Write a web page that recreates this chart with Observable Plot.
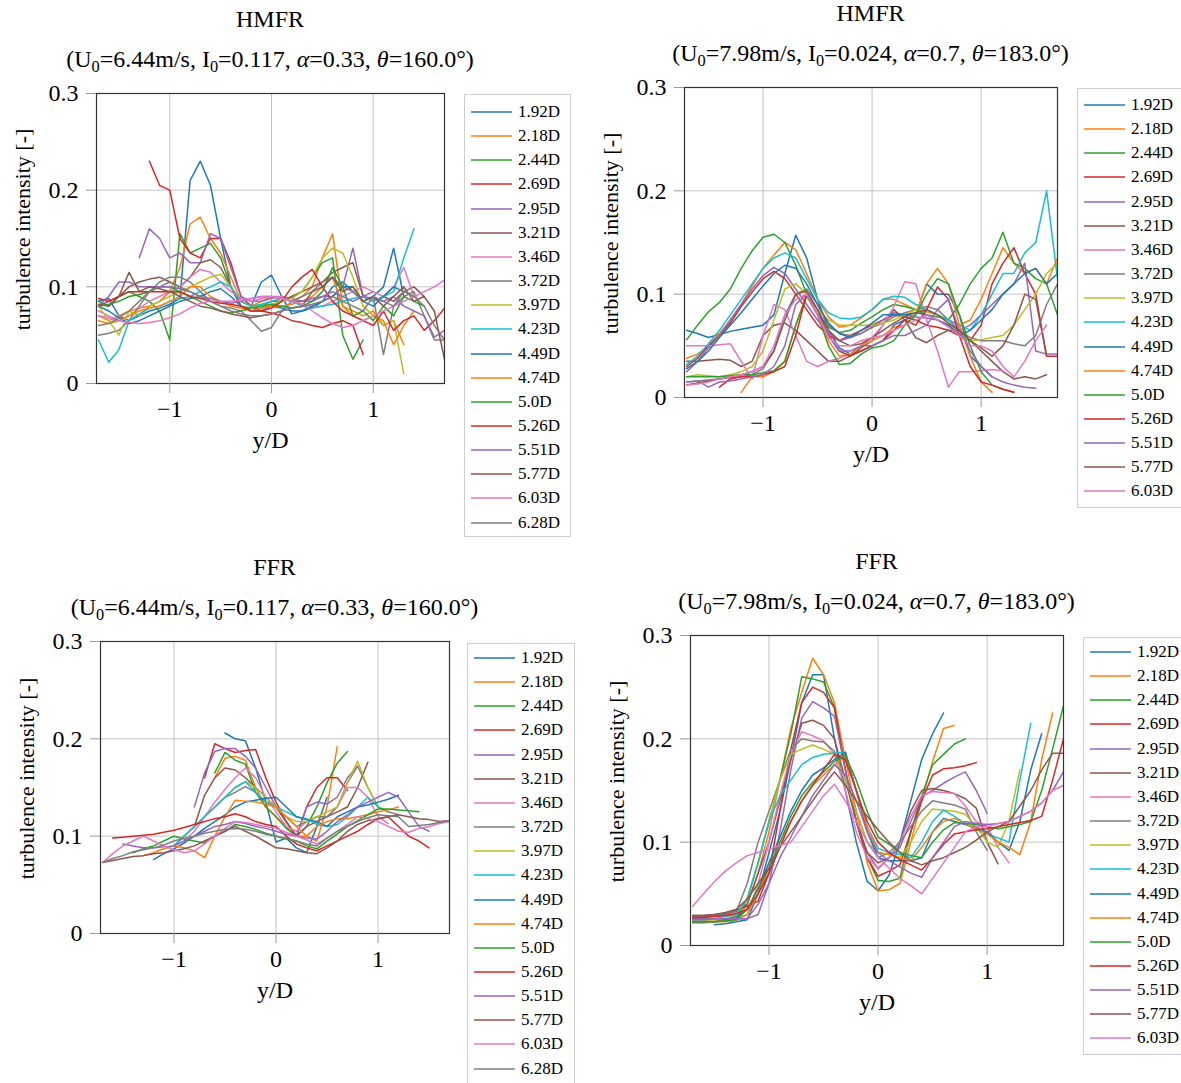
<!DOCTYPE html>
<html><head><meta charset="utf-8">
<script src="https://cdn.jsdelivr.net/npm/d3@7"></script>
<script src="https://cdn.jsdelivr.net/npm/@observablehq/plot@0.6"></script>
<style>
body{margin:0;background:#fff;width:1181px;height:1083px;position:relative;overflow:hidden;font-family:"Liberation Serif","Times New Roman",serif;color:#000}
.title{position:absolute;font-size:24px;line-height:1.15;text-align:center;white-space:nowrap;transform:translate(-50%,-50%)}
.title sub{font-size:0.68em;vertical-align:-0.28em;line-height:0}
.legend{position:absolute;border:1px solid #cfcfcf;background:#fff;box-sizing:border-box}
.entry{position:absolute;left:0;font-size:17px;line-height:1;white-space:nowrap}
.plotbox{position:absolute}
</style></head><body>
<script>
// Series labels (downstream distance)
const labels18 = ["1.92D","2.18D","2.44D","2.69D","2.95D","3.21D","3.46D","3.72D","3.97D","4.23D","4.49D","4.74D","5.0D","5.26D","5.51D","5.77D","6.03D","6.28D"];
const labels17 = labels18.slice(0, 17);
const tab10 = ["#1f77b4","#ff7f0e","#2ca02c","#d62728","#9467bd","#8c564b","#e377c2","#7f7f7f","#bcbd22","#17becf"];
const xTicks = [-1, 0, 1];
const yTicks = [0, 0.1, 0.2, 0.3];

// Each series: [first y/D value, turbulence intensity values at 0.1 y/D spacing]
const hmfrLeft = [
 [-1.7,[0.085,0.088,0.07,0.065,0.07,0.075,0.078,0.082,0.088,0.21,0.23,0.205,0.15,0.1,0.085,0.08,0.105,0.112,0.09,0.072,0.075,0.078,0.085,0.1,0.105,0.095,0.085,0.09,0.1,0.14,0.09]],
 [-1.7,[0.07,0.065,0.07,0.075,0.078,0.08,0.085,0.095,0.12,0.165,0.172,0.15,0.135,0.11,0.085,0.08,0.085,0.09,0.088,0.085,0.09,0.1,0.13,0.155,0.08,0.075,0.07,0.075,0.06,0.065,0.04]],
 [-1.7,[0.085,0.08,0.09,0.095,0.09,0.085,0.075,0.045,0.155,0.135,0.14,0.145,0.13,0.1,0.08,0.078,0.08,0.085,0.085,0.09,0.095,0.11,0.125,0.13,0.05,0.025,0.045]],
 [-1.2,[0.23,0.205,0.2,0.15,0.135,0.13,0.15,0.15,0.125,0.09,0.08,0.075,0.073,0.07,0.065,0.063,0.06,0.058,0.062,0.065,0.06,0.03]],
 [-1.3,[0.13,0.16,0.15,0.13,0.135,0.125,0.125,0.155,0.15,0.12,0.09,0.085,0.085,0.088,0.09,0.088,0.085,0.085,0.09,0.09,0.1,0.14,0.09,0.095]],
 [-1.7,[0.08,0.085,0.09,0.1,0.105,0.108,0.11,0.105,0.1,0.11,0.125,0.128,0.12,0.1,0.08,0.075,0.075,0.08,0.085,0.09,0.095,0.1,0.105,0.115,0.12,0.125,0.09,0.085,0.09,0.085,0.095,0.1,0.09]],
 [-1.7,[0.075,0.07,0.065,0.07,0.078,0.085,0.09,0.095,0.1,0.11,0.118,0.115,0.105,0.095,0.088,0.085,0.088,0.09,0.09,0.085,0.082,0.08,0.08,0.085,0.09,0.095,0.1,0.095,0.09,0.1,0.12,0.09]],
 [-1.7,[0.05,0.052,0.055,0.065,0.08,0.095,0.105,0.11,0.11,0.105,0.095,0.085,0.08,0.078,0.075,0.065,0.054,0.058,0.075,0.085,0.09,0.095,0.105,0.11,0.1,0.095,0.085,0.09,0.03,0.08,0.09,0.095,0.07,0.045,0.045]],
 [-1.7,[0.08,0.065,0.05,0.075,0.07,0.08,0.085,0.09,0.095,0.1,0.105,0.11,0.113,0.1,0.085,0.08,0.08,0.082,0.085,0.088,0.095,0.11,0.13,0.14,0.135,0.11,0.08,0.07,0.06,0.065,0.01]],
 [-1.7,[0.045,0.022,0.035,0.065,0.072,0.078,0.08,0.085,0.088,0.09,0.095,0.1,0.105,0.1,0.085,0.08,0.082,0.085,0.088,0.085,0.08,0.078,0.08,0.082,0.085,0.088,0.09,0.085,0.09,0.095,0.13,0.16]],
 [-1.7,[0.08,0.075,0.068,0.062,0.065,0.07,0.075,0.08,0.085,0.088,0.09,0.095,0.098,0.09,0.08,0.075,0.078,0.08,0.078,0.075,0.075,0.08,0.085,0.09,0.1,0.1,0.085,0.08,0.09,0.1,0.095]],
 [-1.7,[0.065,0.062,0.065,0.07,0.075,0.078,0.08,0.085,0.09,0.1,0.1,0.09,0.085,0.08,0.078,0.075,0.078,0.08,0.08,0.082,0.085,0.09,0.1,0.11,0.08,0.07,0.065,0.07,0.065,0.04,0.06,0.075]],
 [-1.7,[0.08,0.082,0.085,0.09,0.092,0.095,0.1,0.1,0.095,0.09,0.085,0.08,0.075,0.073,0.075,0.078,0.08,0.082,0.08,0.078,0.08,0.085,0.095,0.12,0.1,0.07,0.075,0.065,0.08,0.07,0.09,0.085,0.08]],
 [-1.7,[0.088,0.085,0.09,0.095,0.095,0.095,0.095,0.095,0.095,0.09,0.088,0.085,0.083,0.082,0.08,0.075,0.075,0.078,0.085,0.1,0.11,0.118,0.1,0.085,0.075,0.07,0.065,0.06,0.075,0.055,0.065,0.07,0.055,0.065,0.078]],
 [-1.7,[0.08,0.09,0.105,0.105,0.1,0.1,0.1,0.1,0.098,0.095,0.09,0.088,0.085,0.083,0.085,0.088,0.09,0.09,0.088,0.085,0.085,0.088,0.09,0.095,0.09,0.085,0.09,0.088,0.085,0.09,0.08,0.075,0.07,0.048,0.055]],
 [-1.7,[0.082,0.08,0.09,0.115,0.095,0.1,0.098,0.095,0.09,0.085,0.08,0.078,0.075,0.072,0.07,0.068,0.07,0.072,0.075,0.078,0.08,0.095,0.1,0.11,0.095,0.1,0.085,0.09,0.08,0.09,0.1,0.085,0.09,0.075,0.025]],
 [-1.7,[0.07,0.068,0.065,0.063,0.062,0.063,0.065,0.068,0.072,0.078,0.083,0.085,0.085,0.085,0.086,0.088,0.09,0.09,0.088,0.085,0.082,0.075,0.068,0.062,0.058,0.06,0.065,0.07,0.075,0.08,0.085,0.09,0.095,0.1,0.107]],
 [-1.7,[0.06,0.062,0.068,0.075,0.085,0.095,0.1,0.105,0.1,0.095,0.09,0.085,0.08,0.075,0.072,0.07,0.07,0.072,0.075,0.078,0.08,0.082,0.085,0.09,0.085,0.08,0.075,0.09,0.085,0.08,0.095,0.09,0.08,0.06,0.045]]
];

const hmfrRight = [
 [-1.7,[0.065,0.062,0.058,0.061,0.064,0.066,0.068,0.07,0.08,0.12,0.157,0.135,0.095,0.065,0.048,0.042,0.045,0.05,0.055,0.07,0.075,0.08,0.11,0.1,0.1,0.08,0.04,0.03,0.02]],
 [-1.7,[0.038,0.042,0.05,0.062,0.075,0.09,0.108,0.125,0.138,0.15,0.143,0.12,0.095,0.078,0.068,0.07,0.077,0.085,0.095,0.095,0.09,0.085,0.083,0.08,0.075,0.07,0.075,0.095,0.12,0.145,0.13,0.12,0.125,0.11,0.135]],
 [-1.7,[0.056,0.07,0.083,0.092,0.105,0.125,0.142,0.155,0.158,0.15,0.128,0.1,0.08,0.068,0.063,0.065,0.072,0.078,0.085,0.09,0.088,0.085,0.08,0.078,0.075,0.09,0.11,0.125,0.135,0.16,0.13,0.125,0.115,0.11,0.08]],
 [-1.7,[0.03,0.038,0.05,0.06,0.072,0.088,0.102,0.115,0.122,0.115,0.1,0.085,0.07,0.06,0.055,0.06,0.065,0.07,0.075,0.08,0.078,0.075,0.07,0.068,0.065,0.06,0.055,0.07,0.11,0.13,0.145,0.12,0.1,0.04,0.04]],
 [-1.7,[0.025,0.035,0.048,0.06,0.075,0.09,0.105,0.118,0.126,0.12,0.105,0.09,0.075,0.062,0.055,0.058,0.062,0.068,0.075,0.082,0.08,0.078,0.077,0.075,0.07,0.065,0.07,0.08,0.09,0.1,0.11,0.13,0.045,0.042,0.042]],
 [-1.7,[0.035,0.035,0.036,0.037,0.036,0.03,0.035,0.06,0.07,0.072,0.065,0.055,0.045,0.035,0.035,0.04,0.048,0.055,0.07,0.085,0.075,0.058,0.053,0.06,0.065,0.065,0.055,0.045,0.035,0.025,0.018,0.02,0.018,0.022]],
 [-1.7,[0.05,0.05,0.05,0.051,0.052,0.035,0.018,0.06,0.09,0.085,0.06,0.035,0.03,0.035,0.038,0.042,0.05,0.058,0.07,0.088,0.112,0.11,0.075,0.045,0.01,0.025,0.025,0.026,0.027,0.026]],
 [-1.7,[0.015,0.016,0.017,0.018,0.019,0.02,0.022,0.028,0.045,0.08,0.1,0.105,0.09,0.07,0.062,0.06,0.062,0.068,0.072,0.078,0.082,0.085,0.088,0.085,0.075,0.065,0.058,0.055,0.055,0.055,0.052,0.05,0.06,0.09,0.11]],
 [-1.7,[0.02,0.022,0.021,0.02,0.022,0.025,0.03,0.045,0.075,0.105,0.11,0.1,0.085,0.075,0.07,0.07,0.07,0.07,0.072,0.075,0.08,0.085,0.085,0.08,0.072,0.06,0.055,0.056,0.058,0.06,0.07,0.085,0.1,0.12,0.13]],
 [-1.7,[0.032,0.04,0.052,0.065,0.08,0.095,0.11,0.125,0.135,0.14,0.135,0.115,0.095,0.082,0.077,0.076,0.078,0.085,0.095,0.098,0.097,0.09,0.085,0.08,0.075,0.07,0.065,0.08,0.1,0.12,0.12,0.14,0.15,0.2,0.115]],
 [-1.7,[0.028,0.035,0.045,0.058,0.07,0.082,0.095,0.108,0.12,0.128,0.125,0.11,0.09,0.072,0.062,0.058,0.065,0.072,0.08,0.08,0.08,0.082,0.08,0.075,0.07,0.06,0.065,0.075,0.085,0.1,0.11,0.12,0.125,0.11,0.12]],
 [-1.2,[0.005,0.02,0.02,0.025,0.035,0.07,0.1,0.08,0.055,0.04,0.042,0.05,0.055,0.06,0.068,0.07,0.08,0.11,0.125,0.11,0.07,0.04,0.015,0.005]],
 [-1.7,[0.02,0.02,0.02,0.02,0.021,0.022,0.022,0.024,0.026,0.035,0.07,0.098,0.08,0.05,0.032,0.033,0.042,0.048,0.05,0.055,0.07,0.08,0.1,0.115,0.11,0.08,0.05,0.025,0.012,0.008,0.005]],
 [-1.4,[0.01,0.018,0.02,0.02,0.022,0.025,0.03,0.06,0.1,0.085,0.06,0.045,0.04,0.045,0.05,0.055,0.065,0.075,0.07,0.085,0.107,0.095,0.06,0.03,0.015,0.012,0.008,0.005]],
 [-1.7,[0.015,0.016,0.01,0.015,0.016,0.018,0.02,0.022,0.03,0.05,0.09,0.1,0.08,0.06,0.045,0.045,0.05,0.05,0.055,0.06,0.06,0.065,0.07,0.085,0.095,0.065,0.045,0.03,0.02,0.015,0.012,0.01,0.009]],
 [-1.7,[0.012,0.014,0.016,0.018,0.02,0.022,0.025,0.03,0.045,0.075,0.1,0.103,0.085,0.065,0.055,0.05,0.052,0.058,0.065,0.072,0.078,0.082,0.085,0.08,0.072,0.065,0.055,0.048,0.04,0.05,0.07,0.1,0.095,0.04]],
 [-1.7,[0.012,0.013,0.015,0.018,0.02,0.022,0.025,0.03,0.05,0.08,0.095,0.1,0.08,0.058,0.05,0.05,0.055,0.058,0.06,0.065,0.07,0.075,0.08,0.075,0.068,0.06,0.05,0.05,0.045,0.03,0.02,0.035,0.055,0.07]]
];

const ffrLeft = [
 [-0.5,[0.206,0.2,0.198,0.17,0.135,0.094,0.098,0.088,0.083,0.11,0.14]],
 [-0.6,[0.16,0.18,0.182,0.178,0.15,0.13,0.12,0.11,0.1,0.1,0.095,0.13,0.192]],
 [-0.6,[0.165,0.186,0.178,0.174,0.145,0.13,0.12,0.108,0.1,0.11,0.13,0.155,0.175,0.187]],
 [-0.7,[0.16,0.195,0.19,0.186,0.188,0.189,0.16,0.135,0.115,0.1,0.13,0.15,0.16,0.16,0.147]],
 [-0.8,[0.13,0.165,0.187,0.19,0.19,0.182,0.17,0.15,0.13,0.115,0.1,0.13,0.135,0.133,0.14,0.16,0.172]],
 [-0.8,[0.11,0.142,0.16,0.17,0.168,0.16,0.15,0.14,0.13,0.115,0.1,0.11,0.115,0.12,0.125,0.13,0.15,0.176]],
 [-0.9,[0.095,0.105,0.12,0.135,0.148,0.16,0.17,0.16,0.14,0.125,0.11,0.105,0.115,0.12,0.12,0.13,0.15,0.15,0.14,0.12,0.113]],
 [-1.0,[0.09,0.1,0.11,0.12,0.13,0.14,0.145,0.151,0.145,0.135,0.13,0.12,0.11,0.115,0.12,0.12,0.13,0.155,0.172,0.15,0.13,0.125,0.122]],
 [-0.9,[0.1,0.11,0.12,0.13,0.14,0.15,0.156,0.15,0.14,0.13,0.12,0.115,0.115,0.12,0.125,0.13,0.155,0.177,0.15,0.13,0.125]],
 [-1.0,[0.09,0.1,0.11,0.12,0.13,0.14,0.15,0.156,0.145,0.135,0.13,0.125,0.12,0.118,0.112,0.11,0.112,0.12,0.13,0.14,0.13,0.125]],
 [-1.2,[0.076,0.082,0.087,0.093,0.1,0.108,0.115,0.122,0.13,0.135,0.137,0.139,0.14,0.13,0.12,0.117,0.115,0.11,0.12,0.125,0.13,0.132,0.135,0.138,0.142]],
 [-1.3,[0.08,0.083,0.087,0.09,0.088,0.085,0.078,0.1,0.12,0.137,0.136,0.135,0.133,0.13,0.12,0.11,0.1,0.11,0.115,0.118,0.118,0.12,0.122,0.125,0.127,0.13]],
 [-1.4,[0.083,0.087,0.09,0.095,0.1,0.097,0.095,0.093,0.1,0.105,0.112,0.11,0.107,0.103,0.1,0.097,0.095,0.09,0.087,0.095,0.102,0.11,0.116,0.122,0.128,0.128,0.127,0.126,0.125]],
 [-1.6,[0.098,0.099,0.1,0.101,0.102,0.104,0.106,0.109,0.112,0.115,0.118,0.12,0.123,0.12,0.115,0.112,0.11,0.1,0.092,0.088,0.085,0.09,0.095,0.1,0.105,0.112,0.118,0.12,0.11,0.1,0.095,0.088]],
 [-1.5,[0.092,0.09,0.088,0.088,0.089,0.09,0.095,0.1,0.105,0.11,0.112,0.115,0.113,0.11,0.108,0.105,0.102,0.1,0.098,0.097,0.105,0.115,0.122,0.13,0.135,0.14,0.145,0.14,0.125,0.11,0.105]],
 [-1.7,[0.073,0.075,0.077,0.079,0.08,0.082,0.083,0.085,0.087,0.09,0.095,0.1,0.105,0.11,0.105,0.1,0.094,0.088,0.087,0.085,0.083,0.082,0.088,0.095,0.105,0.112,0.116,0.118,0.12,0.122,0.12,0.118,0.117,0.115,0.116]],
 [-1.7,[0.073,0.082,0.09,0.095,0.1,0.095,0.09,0.086,0.083,0.085,0.092,0.1,0.108,0.115,0.114,0.112,0.11,0.108,0.104,0.1,0.096,0.092,0.098,0.105,0.112,0.12,0.118,0.115,0.11,0.105,0.104,0.108,0.11,0.113,0.115]],
 [-1.7,[0.073,0.077,0.08,0.084,0.086,0.088,0.091,0.095,0.098,0.1,0.103,0.105,0.107,0.108,0.107,0.105,0.102,0.1,0.098,0.095,0.092,0.09,0.098,0.105,0.11,0.115,0.119,0.122,0.121,0.12,0.11,0.111,0.112,0.114,0.116]]
];

const ffrRight = [
 [-1.5,[0.02,0.021,0.023,0.025,0.05,0.09,0.13,0.18,0.235,0.262,0.262,0.2,0.15,0.1,0.062,0.053,0.068,0.1,0.14,0.18,0.205,0.225]],
 [-1.7,[0.023,0.023,0.023,0.023,0.024,0.04,0.07,0.11,0.16,0.21,0.245,0.278,0.262,0.235,0.18,0.13,0.08,0.053,0.054,0.06,0.1,0.14,0.178,0.21,0.213]],
 [-1.7,[0.023,0.023,0.023,0.024,0.026,0.045,0.08,0.12,0.16,0.205,0.26,0.258,0.255,0.23,0.17,0.12,0.085,0.063,0.062,0.065,0.11,0.145,0.175,0.185,0.195,0.2]],
 [-1.7,[0.027,0.028,0.028,0.03,0.034,0.038,0.043,0.07,0.13,0.19,0.235,0.25,0.245,0.23,0.17,0.12,0.085,0.067,0.072,0.078,0.11,0.14,0.165,0.171,0.172,0.174,0.177]],
 [-1.7,[0.026,0.026,0.026,0.026,0.026,0.026,0.03,0.06,0.11,0.17,0.22,0.236,0.23,0.222,0.17,0.12,0.09,0.074,0.085,0.095,0.12,0.144,0.15,0.157,0.163,0.168,0.15,0.128]],
 [-1.7,[0.029,0.029,0.03,0.031,0.033,0.04,0.07,0.1,0.14,0.18,0.215,0.218,0.213,0.2,0.16,0.12,0.09,0.08,0.085,0.1,0.13,0.15,0.152,0.15,0.147,0.142,0.133,0.1,0.079]],
 [-1.7,[0.025,0.025,0.025,0.025,0.026,0.03,0.06,0.1,0.145,0.185,0.207,0.203,0.198,0.185,0.15,0.11,0.085,0.075,0.085,0.1,0.125,0.145,0.149,0.148,0.147,0.135,0.12,0.115,0.095,0.08]],
 [-1.7,[0.028,0.028,0.029,0.03,0.033,0.06,0.1,0.13,0.16,0.19,0.2,0.198,0.197,0.188,0.16,0.13,0.1,0.085,0.09,0.1,0.115,0.13,0.14,0.138,0.136,0.132,0.11,0.092]],
 [-1.7,[0.024,0.024,0.025,0.026,0.03,0.045,0.08,0.12,0.16,0.185,0.19,0.194,0.19,0.185,0.16,0.13,0.1,0.09,0.088,0.085,0.1,0.12,0.132,0.131,0.13,0.127,0.115,0.1,0.095,0.12,0.17]],
 [-1.7,[0.025,0.025,0.026,0.028,0.03,0.045,0.08,0.12,0.145,0.16,0.175,0.182,0.185,0.186,0.187,0.15,0.115,0.094,0.09,0.088,0.085,0.1,0.12,0.131,0.125,0.118,0.112,0.108,0.104,0.1,0.16,0.215]],
 [-1.7,[0.022,0.022,0.023,0.025,0.028,0.035,0.055,0.08,0.105,0.13,0.15,0.165,0.172,0.18,0.187,0.15,0.11,0.085,0.082,0.082,0.082,0.085,0.11,0.123,0.12,0.117,0.114,0.11,0.1,0.092,0.12,0.17,0.205]],
 [-1.7,[0.023,0.023,0.023,0.024,0.025,0.03,0.05,0.075,0.1,0.12,0.14,0.155,0.165,0.175,0.182,0.15,0.115,0.09,0.088,0.085,0.082,0.095,0.11,0.12,0.123,0.118,0.113,0.108,0.1,0.095,0.088,0.12,0.18,0.225]],
 [-1.7,[0.023,0.023,0.023,0.024,0.025,0.035,0.055,0.075,0.1,0.125,0.145,0.158,0.168,0.178,0.184,0.16,0.13,0.105,0.098,0.09,0.087,0.085,0.1,0.112,0.119,0.118,0.117,0.115,0.113,0.115,0.117,0.12,0.15,0.19,0.232]],
 [-1.7,[0.027,0.027,0.028,0.029,0.031,0.035,0.05,0.07,0.095,0.12,0.14,0.155,0.17,0.185,0.18,0.15,0.12,0.1,0.09,0.083,0.078,0.073,0.085,0.098,0.108,0.11,0.112,0.113,0.115,0.117,0.119,0.121,0.125,0.16,0.2]],
 [-1.7,[0.025,0.025,0.026,0.026,0.026,0.026,0.04,0.06,0.085,0.105,0.125,0.145,0.16,0.175,0.165,0.14,0.11,0.09,0.082,0.076,0.07,0.066,0.085,0.1,0.115,0.12,0.118,0.117,0.118,0.12,0.125,0.13,0.138,0.15,0.168]],
 [-1.7,[0.029,0.029,0.03,0.032,0.035,0.045,0.06,0.075,0.095,0.11,0.125,0.14,0.155,0.168,0.155,0.14,0.125,0.112,0.1,0.09,0.082,0.078,0.082,0.085,0.09,0.095,0.102,0.11,0.115,0.12,0.135,0.15,0.17,0.186,0.186]],
 [-1.7,[0.038,0.05,0.062,0.072,0.08,0.087,0.09,0.093,0.097,0.1,0.115,0.13,0.145,0.156,0.14,0.12,0.1,0.085,0.075,0.065,0.058,0.05,0.065,0.08,0.095,0.11,0.115,0.115,0.118,0.12,0.125,0.13,0.138,0.15,0.155]]
];

const titles = ["HMFR", "HMFR", "FFR", "FFR"];
const subtitles = [
  '(U<sub>0</sub>=6.44m/s, I<sub>0</sub>=0.117, <i>α</i>=0.33, <i>θ</i>=160.0°)',
  '(U<sub>0</sub>=7.98m/s, I<sub>0</sub>=0.024, <i>α</i>=0.7, <i>θ</i>=183.0°)',
  '(U<sub>0</sub>=6.44m/s, I<sub>0</sub>=0.117, <i>α</i>=0.33, <i>θ</i>=160.0°)',
  '(U<sub>0</sub>=7.98m/s, I<sub>0</sub>=0.024, <i>α</i>=0.7, <i>θ</i>=183.0°)'
];

// Layout (pixels)
const layout = [
  {series: hmfrLeft,  labels: labels18, f: {l: 96,  t: 93,  r: 444,  b: 383}, lg: {l: 464,  t: 94,  w: 107, h: 443, y0: 17}},
  {series: hmfrRight, labels: labels17, f: {l: 684, t: 87,  r: 1057, b: 397}, lg: {l: 1077, t: 88,  w: 110, h: 420, y0: 16}},
  {series: ffrLeft,   labels: labels18, f: {l: 100, t: 641, r: 449,  b: 933}, lg: {l: 467,  t: 643, w: 108, h: 450, y0: 14}},
  {series: ffrRight,  labels: labels17, f: {l: 690, t: 635, r: 1063, b: 945}, lg: {l: 1083, t: 637, w: 110, h: 418, y0: 14}}
];

function rows(series, labels) {
  const out = [];
  series.forEach(([x0, vals], k) => vals.forEach((v, i) => out.push({x: Math.round(x0 * 10 + i) / 10, y: v, s: labels[k]})));
  return out;
}

const ML = 100, MR = 12, MT = 10, MB = 80;
const svgNS = "http://www.w3.org/2000/svg";
layout.forEach((p, idx) => {
  const palette = p.labels.map((_, i) => tab10[i % 10]);
  const W = (p.f.r - p.f.l) + ML + MR, H = (p.f.b - p.f.t) + MT + MB;
  const chart = Plot.plot({
    width: W, height: H, marginLeft: ML, marginRight: MR, marginTop: MT, marginBottom: MB,
    style: {fontFamily: "'Liberation Serif','Times New Roman',serif", fontSize: "24px", color: "#000", background: "transparent", overflow: "visible"},
    x: {domain: [-1.72, 1.7]},
    y: {domain: [0, 0.3]},
    color: {domain: p.labels, range: palette},
    marks: [
      Plot.gridX(xTicks, {stroke: "#c4c4c4", strokeOpacity: 1, strokeWidth: 1}),
      Plot.gridY(yTicks.slice(1, 3), {stroke: "#c4c4c4", strokeOpacity: 1, strokeWidth: 1}),
      Plot.line(rows(p.series, p.labels), {x: "x", y: "y", z: "s", stroke: "s", strokeWidth: 1.5, clip: true}),
      Plot.frame({stroke: "#333", strokeWidth: 1.2}),
      Plot.axisX(xTicks, {tickSize: 10, tickPadding: 6, stroke: "#999", label: null}),
      Plot.axisY(yTicks, {tickSize: 10, tickPadding: 8, stroke: "#999", label: null, tickFormat: d => d === 0 ? "0" : d3.format(".1f")(d)}),
      Plot.text(["y/D"], {frameAnchor: "bottom", dy: 64, fontSize: 24}),
      Plot.text(["turbulence intensity [-]"], {frameAnchor: "left", textAnchor: "middle", dx: -74, dy: -9, rotate: -90, fontSize: 22})
    ]
  });
  const box = document.createElement("div");
  box.className = "plotbox";
  box.style.left = (p.f.l - ML) + "px";
  box.style.top = (p.f.t - MT) + "px";
  box.appendChild(chart);
  document.body.appendChild(box);

  const cx = (p.f.l + p.f.r) / 2;
  const t = document.createElement("div");
  t.className = "title"; t.textContent = titles[idx];
  t.style.left = cx + "px"; t.style.top = (p.f.t - 73) + "px";
  document.body.appendChild(t);
  const s = document.createElement("div");
  s.className = "title"; s.innerHTML = subtitles[idx];
  s.style.left = cx + "px"; s.style.top = (p.f.t - 33) + "px";
  document.body.appendChild(s);

  // Legend: framed box with a coloured line sample and label per series
  const lg = document.createElement("div");
  lg.className = "legend";
  Object.assign(lg.style, {left: p.lg.l + "px", top: p.lg.t + "px", width: p.lg.w + "px", height: p.lg.h + "px"});
  const sv = document.createElementNS(svgNS, "svg");
  sv.setAttribute("width", 50); sv.setAttribute("height", p.lg.h);
  Object.assign(sv.style, {position: "absolute", left: "0px", top: "0px"});
  lg.appendChild(sv);
  p.labels.forEach((lab, i) => {
    const yc = Math.round(p.lg.y0 + i * 24.15);
    const ln = document.createElementNS(svgNS, "line");
    ln.setAttribute("x1", 6); ln.setAttribute("x2", 47);
    ln.setAttribute("y1", yc); ln.setAttribute("y2", yc);
    ln.setAttribute("stroke", palette[i]); ln.setAttribute("stroke-width", 1.5);
    sv.appendChild(ln);
    const tx = document.createElement("div");
    tx.className = "entry";
    tx.textContent = lab;
    Object.assign(tx.style, {left: "53px", top: (yc - 9) + "px"});
    lg.appendChild(tx);
  });
  document.body.appendChild(lg);
});
</script>
</body></html>
